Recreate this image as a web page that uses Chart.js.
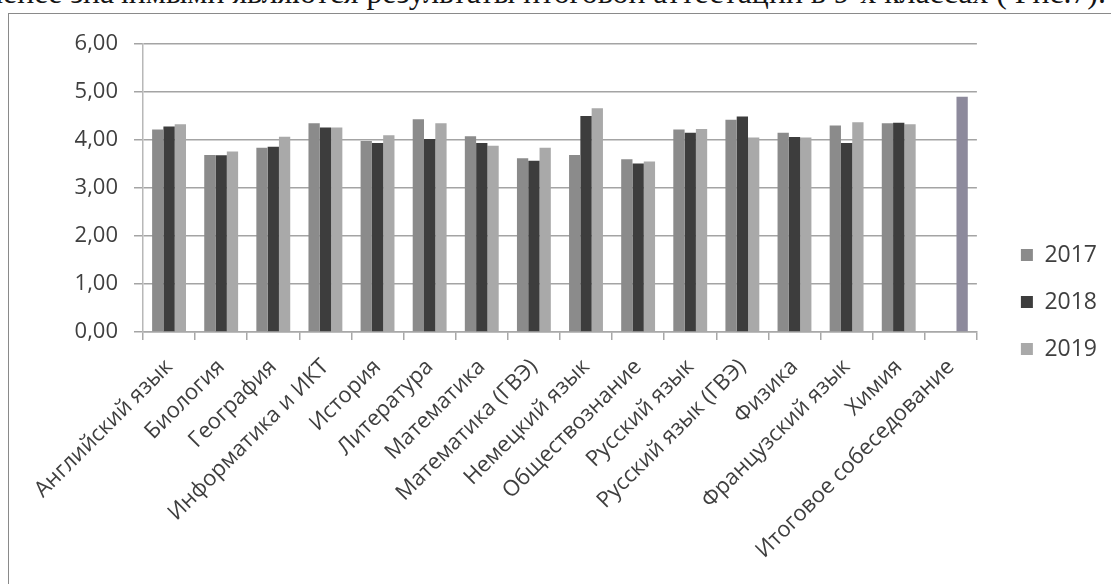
<!DOCTYPE html>
<html lang="ru">
<head>
<meta charset="utf-8">
<title>Рис.7</title>
<script src="https://cdn.jsdelivr.net/npm/chart.js@4/dist/chart.umd.min.js"></script>
<style>
  html, body { margin: 0; padding: 0; background: #fff; overflow: hidden; }
  #wrap { position: relative; width: 1111px; height: 584px; overflow: hidden; }
  #caption {
    position: absolute; left: -17px; top: -23px; white-space: nowrap;
    font-family: "Liberation Serif", serif; font-size: 31.8px; line-height: 32px; color: #151515;
  }
  #frame {
    position: absolute; left: 8px; top: 13px; width: 1130px; height: 600px;
    border: 1.5px solid #8a8a8a; box-sizing: border-box;
  }
  #chart { position: absolute; left: 0; top: 0; }
</style>
</head>
<body>
<div id="wrap">
  <div id="caption">менее значимыми являются результаты итоговой аттестации в 9-х классах ( Рис.7).</div>
  <div id="frame"></div>
  <canvas id="chart" width="1111" height="584"></canvas>
</div>
<script>
'use strict';

// subjects (categories)
const subjects = [
  'Английский язык', 'Биология', 'География', 'Информатика и ИКТ', 'История',
  'Литература', 'Математика', 'Математика (ГВЭ)', 'Немецкий язык', 'Обществознание',
  'Русский язык', 'Русский язык (ГВЭ)', 'Физика', 'Французский язык', 'Химия',
  'Итоговое собеседование',
];

// average marks per year
const avg2017 = [4.22, 3.69, 3.84, 4.35, 3.98, 4.43, 4.08, 3.62, 3.69, 3.60, 4.22, 4.42, 4.15, 4.30, 4.35, null];
const avg2018 = [4.28, 3.68, 3.86, 4.26, 3.94, 4.02, 3.94, 3.57, 4.50, 3.51, 4.15, 4.49, 4.06, 3.94, 4.36, null];
const avg2019 = [4.33, 3.76, 4.07, 4.26, 4.10, 4.35, 3.88, 3.84, 4.66, 3.55, 4.23, 4.05, 4.05, 4.37, 4.33, 4.90];

const yTicks = [0, 1, 2, 3, 4, 5, 6];

const C17 = '#8b8b8b', C18 = '#3d3d3d', C19 = '#a9a9a9', CTALK = '#8d8a9c';
const FONT = '"Open Sans", "Noto Sans", sans-serif';
const TXT = '#3f3f3f';

const ctx = document.getElementById('chart').getContext('2d');
new Chart(ctx, {
  type: 'bar',
  data: {
    labels: subjects,
    datasets: [
      { label: '2017', data: avg2017, backgroundColor: C17 },
      { label: '2018', data: avg2018, backgroundColor: C18 },
      { label: '2019', data: avg2019, backgroundColor: avg2019.map((v, i) => i === subjects.length - 1 ? CTALK : C19) },
    ],
  },
  options: {
    responsive: false,
    animation: false,
    categoryPercentage: 0.65,
    barPercentage: 1.0,
    layout: { padding: { left: 0, top: 44, right: 4, bottom: 24 } },
    plugins: {
      tooltip: { enabled: false },
      legend: {
        position: 'right',
        labels: {
          color: TXT, font: { family: FONT, size: 23 }, boxWidth: 12, boxHeight: 12, padding: 24,
          generateLabels: chart => chart.data.datasets.map((d, i) => ({
            text: d.label, fillStyle: [C17, C18, C19][i], strokeStyle: [C17, C18, C19][i],
            lineWidth: 0, datasetIndex: i, fontColor: TXT,
          })),
        },
      },
    },
    scales: {
      x: {
        afterFit: s => { s.height = 228; },
        grid: { offset: true, drawOnChartArea: false, drawTicks: true, tickLength: 8, color: '#a8a8a8', lineWidth: 1.5 },
        border: { display: true, color: '#a8a8a8', width: 1.5 },
        ticks: { autoSkip: false, maxRotation: 45, minRotation: 45, padding: 14, color: TXT, font: { family: FONT, size: 22 } },
      },
      y: {
        min: 0, max: 6,
        afterFit: s => { s.width = 143; },
        afterBuildTicks: s => { s.ticks = yTicks.map(v => ({ value: v })); },
        grid: { color: '#a4a4a4', lineWidth: 1.5, tickLength: 9 },
        border: { display: true, color: '#b8b8b8', width: 1.5 },
        ticks: { padding: 16, color: TXT, font: { family: FONT, size: 22 }, callback: v => v.toFixed(2).replace('.', ',') },
      },
      // empty spacer between plot and legend
      gap: {
        position: 'right', min: 0, max: 6,
        afterFit: s => { s.width = 20; },
        grid: { display: false }, border: { display: false }, ticks: { display: false },
      },
    },
  },
});
</script>
</body>
</html>
